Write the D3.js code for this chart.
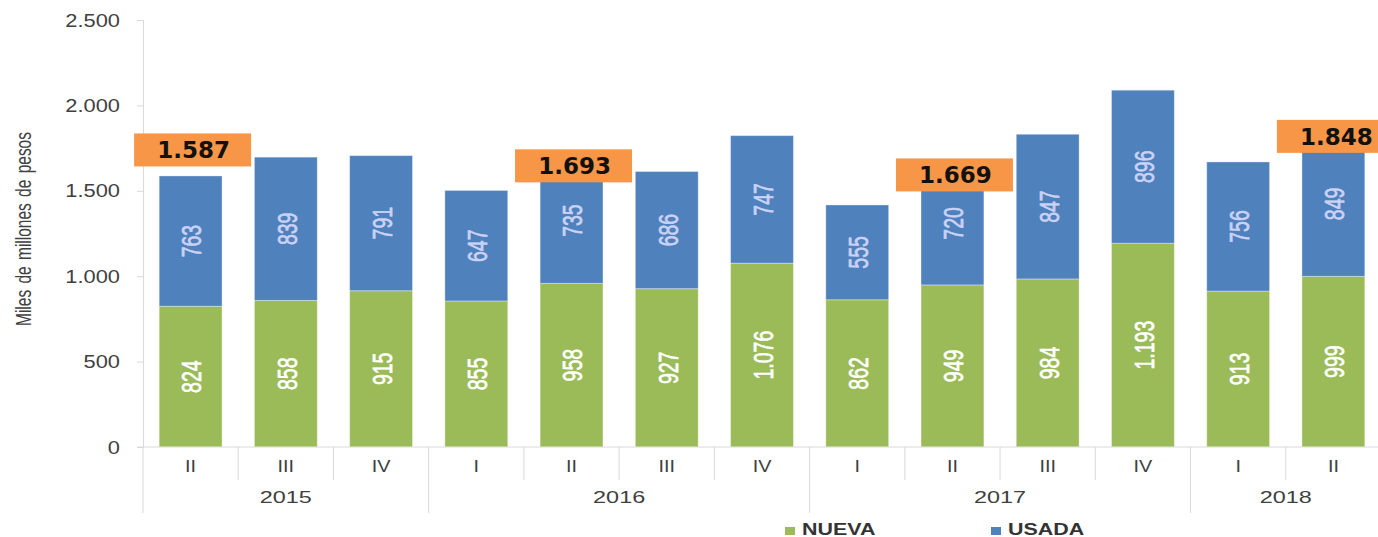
<!DOCTYPE html>
<html>
<head>
<meta charset="utf-8">
<script src="https://cdn.jsdelivr.net/npm/d3@7"></script>
<style>
  body { margin: 0; background: #fff; }
  svg text { font-family: "Liberation Sans", Arial, sans-serif; }
</style>
</head>
<body>
<div id="chart"></div>
<script>
// data
const quarters = ['II','III','IV','I','II','III','IV','I','II','III','IV','I','II'];
const years = ['2015','2015','2015','2016','2016','2016','2016','2017','2017','2017','2017','2018','2018'];
const nueva = [824, 858, 915, 855, 958, 927, 1076, 862, 949, 984, 1193, 913, 999];
const usada = [763, 839, 791, 647, 735, 686, 747, 555, 720, 847, 896, 756, 849];
const yTicks = [0, 500, 1000, 1500, 2000, 2500];
const highlighted = [0, 4, 8, 12]; // totals shown in orange boxes
const highlightDy = [-26, 8, 13, 5]; // nudge of each box from bar top
const legendItems = ['NUEVA', 'USADA'];

const width = 1378, height = 537;
const colors = {NUEVA:'#9BBB59', USADA:'#4F81BD', box:'#F79646'};
const textGrey = '#404040';

const loc = d3.formatLocale({decimal:',', thousands:'.', grouping:[3], currency:['$','']});
const fmt = loc.format(',d');

const svg = d3.select('#chart').append('svg')
  .attr('width', width).attr('height', height);

const idx = d3.range(quarters.length);
const x = d3.scaleBand().domain(idx).range([143, 1381]).paddingInner(0.34).paddingOuter(0.17);
const y = d3.scaleLinear().domain([0, 2500]).range([447, 20]);
const step = x.step();
const left = i => x.range()[0] + i*step;

//the source picture is stretched sideways, so every text gets a scale() too

// y axis
const axisY = d3.axisLeft(y).tickValues(yTicks).tickSize(6).tickPadding(17).tickFormat(fmt);
const gy = svg.append('g').attr('transform', 'translate(143,0)').call(axisY);
gy.select('.domain').attr('stroke', '#d9d9d9');
gy.selectAll('line').attr('stroke', '#d9d9d9');
gy.selectAll('text')
  .attr('font-size', 19).attr('fill', textGrey)
  .attr('x', -23/1.15)
  .attr('transform', 'scale(1.15,1)')
  .style('font-family', '"Liberation Sans", Arial, sans-serif');

svg.append('text')
  .attr('transform', 'translate(23,229) rotate(-90) scale(1,1.4)')
  .attr('text-anchor', 'middle')
  .attr('dy', '0.36em')
  .attr('font-size', 15.5).attr('fill', textGrey)
  .style('word-spacing', '2px')
  .text('Miles de millones de pesos');

// bars
const rows = idx.map(i => ({i, NUEVA:nueva[i], USADA:usada[i]}));
const series = d3.stack().keys(legendItems)(rows);

series.forEach(s => {
  const g = svg.append('g');
  g.selectAll('rect').data(s).enter().append('rect')
    .attr('x', d => x(d.data.i))
    .attr('width', x.bandwidth())
    .attr('y', d => y(d[1]))
    .attr('height', d => y(d[0]) - y(d[1]))
    .attr('fill', colors[s.key])
    .attr('stroke', 'rgba(255,255,255,0.35)')
    .attr('stroke-width', 1);
  g.selectAll('text').data(s).enter().append('text')
    .attr('transform', d => `translate(${x(d.data.i) + x.bandwidth()/2 + 1},${(y(d[0]) + y(d[1]))/2}) rotate(-90) scale(1,1.4)`)
    .attr('text-anchor', 'middle')
    .attr('dy', '0.36em')
    .attr('font-size', 19.5)
    .attr('fill', s.key === 'NUEVA' ? '#ffffff' : '#CBD2F6')
    .attr('stroke', s.key === 'NUEVA' ? '#ffffff' : '#CBD2F6')
    .attr('stroke-width', 0.5)
    .text(d => fmt(d.data[s.key]));
});

// x axis: baseline, separators, labels
svg.append('line').attr('x1', 137).attr('x2', 1381).attr('y1', 447).attr('y2', 447)
  .attr('stroke', '#d9d9d9');

const yearStart = idx.filter(i => i === 0 || years[i] !== years[i-1]);
svg.selectAll('.sep').data(idx).enter().append('line')
  .attr('class', 'sep')
  .attr('x1', i => left(i)).attr('x2', i => left(i))
  .attr('y1', 447).attr('y2', i => yearStart.includes(i) ? 513 : 480)
  .attr('stroke', '#d9d9d9');

svg.selectAll('.q').data(idx).enter().append('text')
  .attr('class', 'q')
  .attr('transform', i => `translate(${x(i) + x.bandwidth()/2},472) scale(1.2,1)`)
  .attr('text-anchor', 'middle')
  .attr('font-size', 16.5).attr('fill', textGrey)
  .text(i => quarters[i]);

const yearGroups = d3.groups(idx, i => years[i]);
svg.selectAll('.yr').data(yearGroups).enter().append('text')
  .attr('class', 'yr')
  .attr('transform', d => `translate(${(left(d3.min(d[1])) + left(d3.max(d[1]) + 1))/2},503) scale(1.42,1)`)
  .attr('text-anchor', 'middle')
  .attr('font-size', 16.5).attr('fill', textGrey)
  .text(d => d[0]);

// highlighted totals
highlighted.forEach((i, k) => {
  const total = nueva[i] + usada[i];
  const cx = x(i) + x.bandwidth()/2 + 2;
  const cy = y(total) + highlightDy[k];
  const g = svg.append('g');
  g.append('rect')
    .attr('x', cx - 58.5).attr('y', cy - 16.5)
    .attr('width', 117).attr('height', 33)
    .attr('fill', colors.box);
  g.append('text')
    .attr('x', cx + 1).attr('y', cy)
    .attr('dy', '0.36em')
    .attr('text-anchor', 'middle')
    .attr('font-size', 23).attr('font-weight', 'bold')
    .attr('fill', '#111')
    .style('font-family', '"DejaVu Sans", Verdana, sans-serif')
    .text(fmt(total));
});

// legend
const legendX = d3.scalePoint().domain(legendItems).range([785, 991]);
const lg = svg.selectAll('.lg').data(legendItems).enter().append('g').attr('class', 'lg')
  .attr('transform', d => `translate(${legendX(d)},535)`);
lg.append('rect').attr('x', 0).attr('y', -8).attr('width', 10).attr('height', 8)
  .attr('fill', d => colors[d]);
lg.append('text')
  .attr('transform', 'translate(17,0) scale(1.3,1)')
  .attr('font-size', 16.5).attr('font-weight', 'bold').attr('fill', '#333')
  .text(d => d);
</script>
</body>
</html>
